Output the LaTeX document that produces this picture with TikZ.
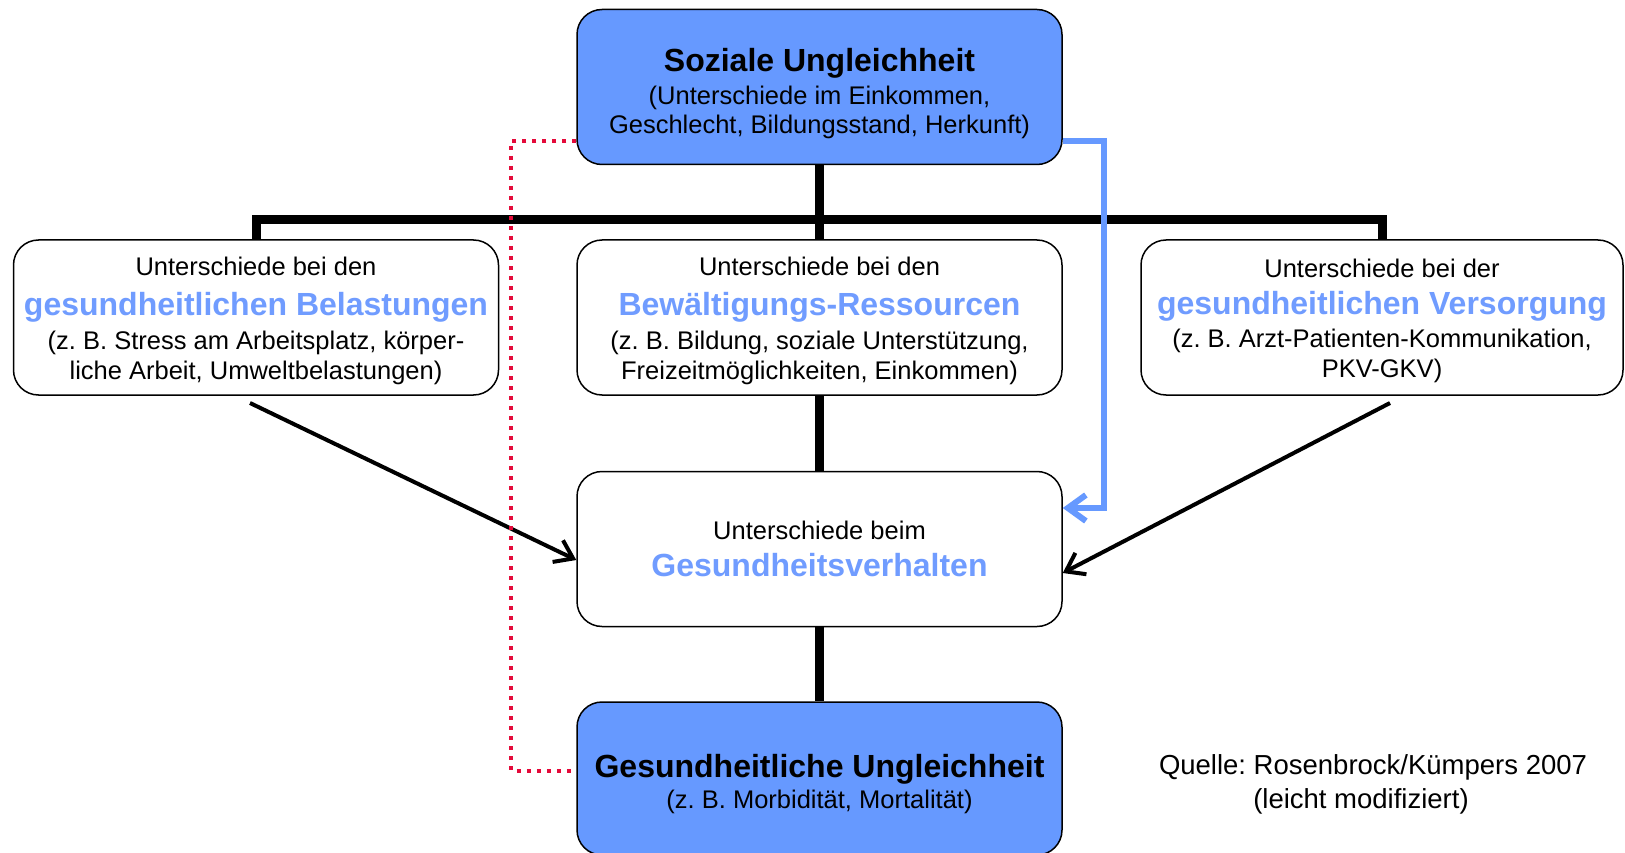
\documentclass[tikz,border=0pt]{standalone}
\usepackage{fontspec}
\setmainfont{Liberation Sans}
\usetikzlibrary{arrows.meta}
\definecolor{boxblue}{RGB}{102,153,255}
\definecolor{txtblue}{RGB}{112,156,255}
\definecolor{dotred}{RGB}{228,10,58}
\newcommand\regfont{\fontsize{25.5}{30.5}\selectfont}
\newcommand\titlefont{\bfseries\fontsize{32}{38}\selectfont}
\newcommand\hl[1]{{\titlefont\color{txtblue}#1}}
\newcommand\lift[1]{\rule{0pt}{#1}}
\begin{document}
\frenchspacing
\begin{tikzpicture}[x=1pt,y=-1pt,
  box/.style={draw=black, line width=1.5pt, rounded corners=25pt,
    minimum width=485pt, minimum height=155pt, inner sep=0pt,
    align=center, font=\regfont, text=black},
  keybox/.style={box, fill=boxblue},
  bar/.style={line width=9pt, line join=miter, draw=black},
  blackarrow/.style={line width=4pt, draw=black, -{Straight Barb[length=17pt,width=24pt]}},
  bluearrow/.style={line width=6pt, draw=boxblue, line join=miter, -{Straight Barb[length=18pt,width=26pt]}},
  reddots/.style={line width=4pt, draw=dotred, dash pattern=on 4pt off 6pt},
  source/.style={align=center, font=\fontsize{27.5}{34}\selectfont, inner sep=0pt}
]
\useasboundingbox (0,0) rectangle (1625,853);
\fill[white] (0,0) rectangle (1625,853);

% boxes
\node[keybox] (top) at (819.5,87) {\lift{36pt}{\titlefont Soziale Ungleichheit}\\[2.3pt](Unterschiede im Einkommen,\\[-1pt]Geschlecht, Bildungsstand, Herkunft)};
\node[box] (left) at (256,317.5) {\lift{25pt}Unterschiede bei den\\[10pt]\hl{gesundheitlichen Belastungen}\\[2.8pt](z. B. Stress am Arbeitsplatz, körper-\\liche Arbeit, Umweltbelastungen)};
\node[box] (mid) at (819.5,317.5) {\lift{25pt}Unterschiede bei den\\[10pt]\hl{Bewältigungs-Ressourcen}\\[2.8pt](z. B. Bildung, soziale Unterstützung,\\Freizeitmöglichkeiten, Einkommen)};
\node[box, minimum width=482pt] (right) at (1382,317.5) {\lift{25pt}Unterschiede bei der\\[7.2pt]\hl{gesundheitlichen Versorgung}\\[1.8pt](z. B. Arzt-Patienten-Kommunikation,\\PKV-GKV)};
\node[box] (beh) at (819.5,549) {Unterschiede beim\\[6.2pt]\hl{Gesundheitsverhalten}};
\node[keybox, minimum height=153pt] (bottom) at (819.5,778.5) {\lift{34pt}{\titlefont Gesundheitliche Ungleichheit}\\(z. B. Morbidität, Mortalität)};

\node[source] (src) at (1373,784) {Quelle: Rosenbrock/Kümpers 2007\\(leicht modifiziert)\hspace*{24pt}};

% black structure
\coordinate (bary) at (0,220);
\draw[bar] (left.north) -- (left.north |- bary) -- (right.north |- bary) -- (right.north);
\draw[bar] (top.south) -- (mid.north);
\draw[bar] (mid.south) -- (beh.north);
\draw[bar] (beh.south) -- (bottom.north);

% black arrows
\coordinate (lstart) at (250,403);
\coordinate (rstart) at (1390,403);
\draw[blackarrow] (lstart) -- ([yshift=-11pt]beh.west);
\draw[blackarrow] (rstart) -- ([yshift=-24pt]beh.east);

% blue connector
\draw[bluearrow] ([yshift=-54pt]top.east) -- ++(41,0) |- ([yshift=41pt]beh.east);

% red dotted connector
\draw[reddots] ([yshift=-54pt]top.west) -- ++(-65,0) |- ([yshift=8pt]bottom.west);
\end{tikzpicture}
\end{document}
